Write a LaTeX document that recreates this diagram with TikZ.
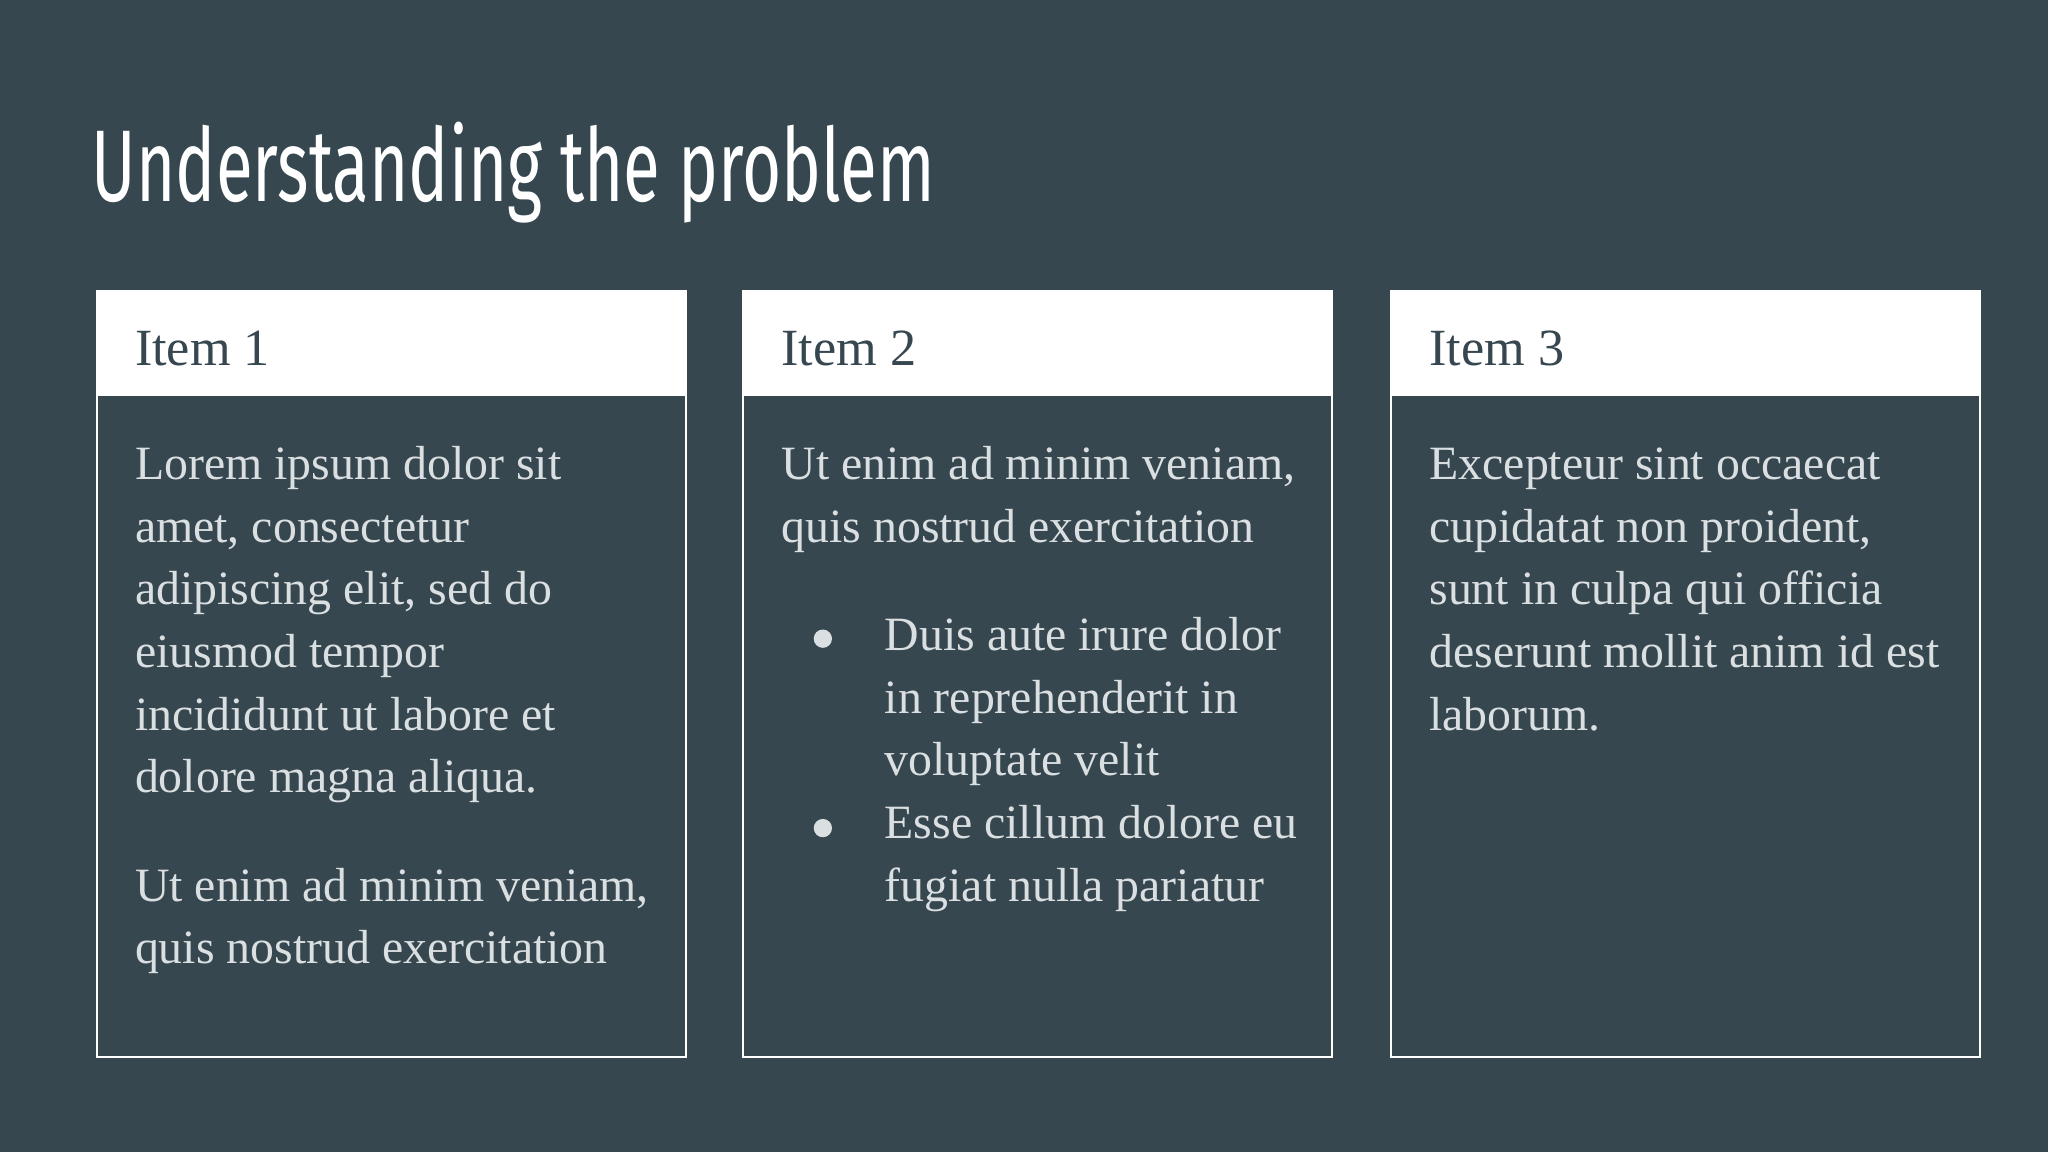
\documentclass[tikz,border=0pt]{standalone}
\usepackage{fontspec}
\setmainfont{Liberation Serif}
\newfontfamily\titlefont[FakeStretch=0.66]{Fira Sans}
\definecolor{bg}{HTML}{37474F}
\definecolor{txt}{HTML}{DADFE1}
\begin{document}
\begin{tikzpicture}[x=0.5pt,y=-0.5pt,
  card/.style={draw=white,line width=0.7pt},
  head/.style={fill=white},
  body/.style={anchor=base west,inner sep=0pt,align=left,text=txt,font=\fontsize{18.3}{24}\selectfont},
  htext/.style={anchor=base west,inner sep=0pt,text=bg,font=\fontsize{20}{24}\selectfont},
  bul/.style={circle,fill=txt,inner sep=0pt,minimum size=7pt}]
\fill[bg] (0,0) rectangle (1568,882);
\useasboundingbox (0,0) rectangle (1568,882);
\node[anchor=base west,inner sep=0pt,text=white,font=\titlefont\fontsize{39}{44}\selectfont] (title) at (70,154) {Understanding the problem};
\foreach \x/\n in {74/1,569/2,1065/3}{
  \fill[head] (\x,223) rectangle ++(451,80);
  \draw[card] (\x,223) rectangle ++(451,586);
  \node[htext] (h\n) at (\x+29,280) {Item \n};
}
\node[body] (p1) at (103,607) {Lorem ipsum dolor sit\\amet, consectetur\\adipiscing elit, sed do\\eiusmod tempor\\incididunt ut labore et\\dolore magna aliqua.};
\node[body] (p1b) at (103,738) {Ut enim ad minim veniam,\\quis nostrud exercitation};
\node[body] (p2) at (598,415) {Ut enim ad minim veniam,\\quis nostrud exercitation};
\node[bul] (b1) at (630,489) {};
\node[body] (p2a) at (677,594) {Duis aute irure dolor\\in reprehenderit in\\voluptate velit};
\node[bul] (b2) at (630,634) {};
\node[body] (p2b) at (677,690) {Esse cillum dolore eu\\fugiat nulla pariatur};
\node[body] (p3) at (1094,559) {Excepteur sint occaecat\\cupidatat non proident,\\sunt in culpa qui officia\\deserunt mollit anim id est\\laborum.};
\end{tikzpicture}
\end{document}
